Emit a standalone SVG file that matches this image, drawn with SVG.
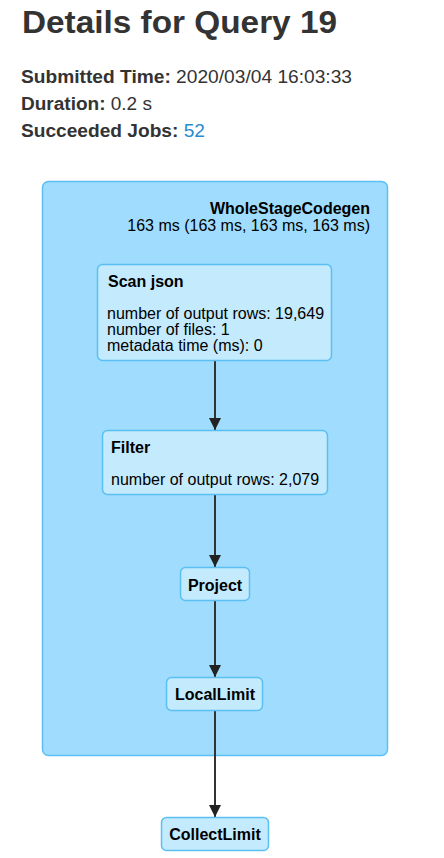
<svg xmlns="http://www.w3.org/2000/svg" width="444" height="858" viewBox="0 0 444 858">
<defs>
<style>
text{font-family:"Liberation Sans",Arial,sans-serif;}
.h{font-size:31px;font-weight:bold;fill:#333;}
.m{font-size:18px;fill:#333;}
.b{font-weight:bold;}
.lnk{fill:#2a8bcc;}
.cl{fill:#a0dcfd;stroke:#5ac0f4;stroke-width:1.5;}
.nd{fill:#c4eafd;stroke:#5ac0f4;stroke-width:1.5;}
.t{font-size:16px;fill:#000;}
.e{stroke:#333;stroke-width:2;fill:none;marker-end:url(#ah);}
</style>
<marker id="ah" viewBox="0 0 12 12" refX="12" refY="6" markerWidth="12" markerHeight="12" markerUnits="userSpaceOnUse" orient="auto-start-reverse">
<path d="M0,0 L12,6 L0,12 z" fill="#222"/>
</marker>
</defs>
<g id="header">
<text class="h" x="22" y="33" textLength="315" lengthAdjust="spacingAndGlyphs">Details for Query 19</text>
<text class="m" x="21" y="83" textLength="331" lengthAdjust="spacingAndGlyphs"><tspan class="b">Submitted Time:</tspan> 2020/03/04 16:03:33</text>
<text class="m" x="21" y="110" textLength="131" lengthAdjust="spacingAndGlyphs"><tspan class="b">Duration:</tspan> 0.2 s</text>
<text class="m" x="21" y="137" textLength="184" lengthAdjust="spacingAndGlyphs"><tspan class="b">Succeeded Jobs:</tspan> <tspan class="lnk">52</tspan></text>
</g>
<g id="cluster-wholestagecodegen">
<rect class="cl" x="42.5" y="181.5" width="345" height="574" rx="6"/>
<text class="t b" x="370" y="214" text-anchor="end">WholeStageCodegen</text>
<text class="t" x="370" y="231" text-anchor="end">163 ms (163 ms, 163 ms, 163 ms)</text>
</g>
<g id="connectors">
<line class="e" x1="215" y1="361" x2="215" y2="430"/>
<line class="e" x1="215" y1="495" x2="215" y2="567"/>
<line class="e" x1="215" y1="601" x2="215" y2="677"/>
<line class="e" x1="215" y1="711" x2="215" y2="817"/>
</g>
<g id="node-scan-json">
<rect class="nd" x="97.5" y="264.5" width="234" height="96" rx="5"/>
<text class="t b" x="108" y="287">Scan json</text>
<text class="t" x="107" y="319">number of output rows: 19,649</text>
<text class="t" x="107" y="335">number of files: 1</text>
<text class="t" x="107" y="351">metadata time (ms): 0</text>
</g>
<g id="node-filter">
<rect class="nd" x="102.5" y="430.5" width="225" height="64" rx="5"/>
<text class="t b" x="111" y="453">Filter</text>
<text class="t" x="111" y="485">number of output rows: 2,079</text>
</g>
<g id="node-project">
<rect class="nd" x="180.5" y="567.5" width="69" height="33" rx="5"/>
<text class="t b" x="215" y="591" text-anchor="middle">Project</text>
</g>
<g id="node-locallimit">
<rect class="nd" x="166.5" y="677.5" width="96" height="33" rx="5"/>
<text class="t b" x="215" y="700" text-anchor="middle">LocalLimit</text>
</g>
<g id="node-collectlimit">
<rect class="nd" x="161.5" y="817.5" width="107" height="33" rx="5"/>
<text class="t b" x="215" y="840" text-anchor="middle">CollectLimit</text>
</g>
</svg>
